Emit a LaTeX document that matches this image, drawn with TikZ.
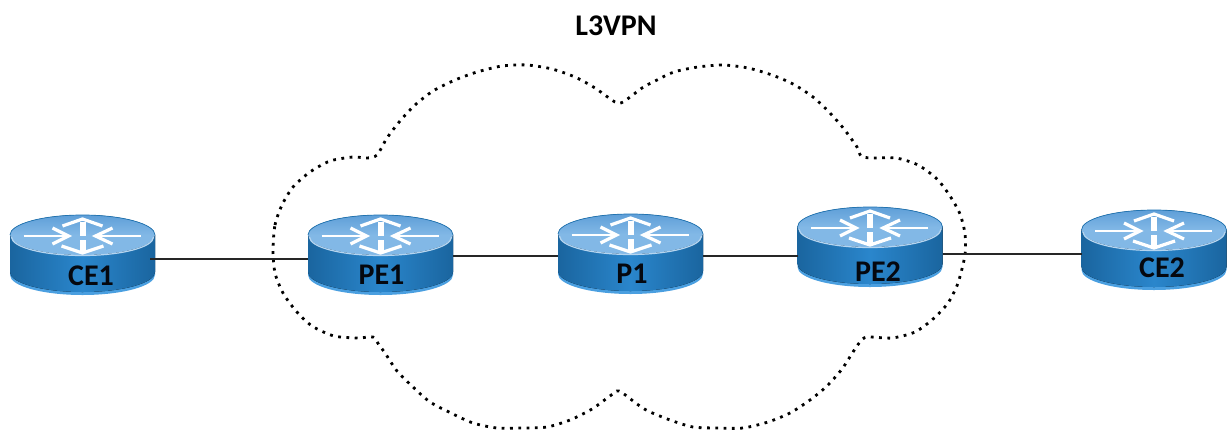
\documentclass[tikz,border=0pt]{standalone}
\usepackage{fontspec}
\setmainfont{Carlito}
\definecolor{rtop}{HTML}{82B8E6}
\definecolor{rtopd}{HTML}{5F9FD8}
\definecolor{rtopl}{HTML}{B5D5F0}
\definecolor{rside}{HTML}{1F74B3}
\definecolor{rsided}{HTML}{1A659F}
\definecolor{rsidel}{HTML}{2A86CC}
\definecolor{rrim}{HTML}{4A9FE0}
\definecolor{labelc}{HTML}{05080F}
\tikzset{
  x=1pt,y=-1pt,
  routerbox/.style={minimum width=145pt,minimum height=80pt,inner sep=0pt,outer sep=0pt},
  routertext/.style={font=\bfseries\fontsize{30}{30}\selectfont,text=labelc,inner sep=0pt},
  titletext/.style={font=\bfseries\fontsize{30}{30}\selectfont,text=black,inner sep=0pt},
  link/.style={draw=black!85,line width=1.3pt},
  cloudline/.style={draw=black,line width=2.8pt,dash pattern=on 2.8pt off 5.5pt},
  wing/.style={draw=white,line width=3.2pt,line cap=butt,line join=miter},
}
\newcommand{\routershape}[3]{% name, x centre, y of top edge
  \begin{scope}[shift={(#2,#3+20)}]
    \fill[rrim] (-72.5,0) -- (-72.5,40) arc[start angle=180,end angle=0,x radius=72.5,y radius=20] -- (72.5,0) -- cycle;
    \fill[left color=rsided,right color=rsided,middle color=rsidel] (-72.5,0) -- (-72.5,37) arc[start angle=180,end angle=0,x radius=72.5,y radius=20] -- (72.5,0) -- cycle;
    \fill[top color=rtopd,bottom color=rtop,middle color=rtop] (0,0) ellipse[x radius=72.5,y radius=20];
    \draw[rtopl,line width=1.2pt] (-71,2) arc[start angle=180,end angle=0,x radius=71,y radius=18.5];
    \draw[rside,line width=.7pt] (-72.5,0) arc[start angle=180,end angle=360,x radius=72.5,y radius=20];
    \draw[wing,line width=6pt] (0,-13) -- (0,1);
    \draw[wing] (-20,-9) -- (0,-16) -- (20,-9);
    \draw[wing,line width=6pt] (0,5) -- (0,16);
    \draw[wing] (-21,11) -- (0,18) -- (21,11);
    \draw[wing,line width=2.6pt] (-59,1) -- (-18,1);
    \draw[wing] (-30,-7) -- (-14,1) -- (-30,9);
    \draw[wing,line width=2.6pt] (58,1) -- (17,1);
    \draw[wing] (30,-7) -- (13,1) -- (30,9);
  \end{scope}
  \node[routerbox] (#1) at (#2,#3+40) {};
}
\begin{document}
\begin{tikzpicture}
\useasboundingbox (0,0) rectangle (1229,429);
\path[fill=white] (0,0) rectangle (1229,429);
\node[titletext] (title) at (616,26) {L3VPN};
% cloud
\draw[cloudline] plot[smooth cycle,tension=0.45] coordinates {
 (273,250)(275,225)(282,205)(293,187)(310,172)(330,161)(353,157)(367,158)(377,155)
 (387,138)(400,121)(415,105)(433,91)(455,80)(477,72)(502,66)(527,65)(552,69)(575,77)
 (595,88)(615,102)(623,102)(642,88)(653,82)(674,72)(698,67)(723,65)(748,68)(772,75)
 (793,84)(813,97)(830,113)(844,129)(857,147)(861,156)(871,158)(896,158)(918,165)
 (937,179)(950,196)(960,214)(965,234)(965,255)(958,283)(948,303)(933,319)(915,332)
 (892,338)(867,337)(860,342)(853,352)(842,369)(827,386)(810,400)(790,413)(768,422)
 (743,428)(718,428)(693,427)(670,420)(648,411)(637,404)(619,391)(610,396)(592,409)
 (570,420)(547,427)(522,428)(497,428)(473,423)(451,413)(430,402)(413,387)(397,371)
 (385,353)(379,345)(373,337)(358,338)(334,336)(312,326)(296,311)(283,293)(275,273)};
% routers
\routershape{CE1}{82.5}{215}
\routershape{PE1}{380.5}{215}
\routershape{P1}{630.5}{214}
\routershape{PE2}{870}{207}
\routershape{CE2}{1154}{210}
\node[routertext] (lce1) at (91,276) {CE1};
\node[routertext] (lpe1) at (381.5,275) {PE1};
\node[routertext] (lp1) at (632,274) {P1};
\node[routertext] (lpe2) at (878,272) {PE2};
\node[routertext] (lce2) at (1162,268) {CE2};
% links
\draw[link] ([xshift=-5pt,yshift=-4pt]CE1.east) -- ([yshift=-4pt]PE1.west);
\draw[link] ([yshift=-1pt]PE1.east) -- ([yshift=-2pt]P1.west);
\draw[link] ([yshift=-2pt]P1.east) -- ([yshift=-9pt]PE2.west);
\draw[link] ([yshift=-7pt]PE2.east) -- ([yshift=-4pt]CE2.west);
\end{tikzpicture}
\end{document}
